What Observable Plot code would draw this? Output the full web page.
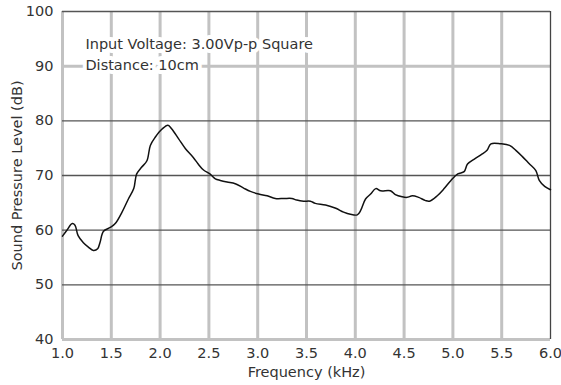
<!DOCTYPE html>
<html>
<head>
<meta charset="utf-8">
<script src="https://cdn.jsdelivr.net/npm/d3@7"></script>
<script src="https://cdn.jsdelivr.net/npm/@observablehq/plot@0.6"></script>
<style>
  html, body { margin: 0; padding: 0; background: #fff; }
  #chart svg { display: block; }
</style>
</head>
<body>
<div id="chart"></div>
<script>
// Frequency response (kHz vs dB)
const freq = [1.00, 1.043, 1.10, 1.128, 1.16, 1.214, 1.265, 1.316, 1.36, 1.385, 1.42, 1.49, 1.54, 1.61, 1.675, 1.73, 1.76, 1.81, 1.865, 1.90, 1.95, 2.02, 2.08, 2.12, 2.19, 2.26, 2.34, 2.39, 2.445, 2.51, 2.566, 2.617, 2.686, 2.77, 2.856, 2.925, 3.01, 3.097, 3.18, 3.27, 3.35, 3.40, 3.47, 3.54, 3.59, 3.695, 3.80, 3.88, 3.95, 4.02, 4.055, 4.105, 4.157, 4.21, 4.26, 4.36, 4.41, 4.48, 4.53, 4.585, 4.65, 4.72, 4.76, 4.84, 4.91, 4.98, 5.05, 5.115, 5.15, 5.22, 5.29, 5.35, 5.39, 5.49, 5.58, 5.645, 5.71, 5.78, 5.85, 5.885, 5.94, 6.00];
const spl  = [58.9, 59.95, 61.2, 60.9, 59.0, 57.7, 56.9, 56.3, 56.6, 57.8, 59.8, 60.5, 61.2, 63.3, 65.7, 67.6, 70.3, 71.5, 72.7, 75.5, 77.0, 78.5, 79.2, 78.5, 76.7, 74.9, 73.3, 72.1, 71.0, 70.3, 69.4, 69.1, 68.8, 68.5, 67.7, 67.1, 66.6, 66.3, 65.8, 65.8, 65.8, 65.5, 65.3, 65.3, 64.9, 64.6, 64.0, 63.3, 62.9, 62.8, 63.6, 65.7, 66.6, 67.6, 67.2, 67.2, 66.5, 66.1, 66.0, 66.3, 66.0, 65.4, 65.3, 66.3, 67.6, 69.1, 70.3, 70.7, 72.1, 73.0, 73.8, 74.6, 75.8, 75.8, 75.5, 74.6, 73.5, 72.2, 70.9, 69.1, 68.0, 67.4];

const xTicks = [1.0, 1.5, 2.0, 2.5, 3.0, 3.5, 4.0, 4.5, 5.0, 5.5, 6.0];
const yTicks = [40, 50, 60, 70, 80, 90, 100];

const noteLines = ["Input Voltage: 3.00Vp-p Square", "Distance: 10cm"];
const noteAt = {x: 1.235, y: 95.8};

const xLabel = "Frequency (kHz)";
const yLabel = "Sound Pressure Level (dB)";

const data = freq.map((f, i) => ({f, db: spl[i]}));
const xMin = d3.min(xTicks), xMax = d3.max(xTicks);
const yMin = d3.min(yTicks), yMax = d3.max(yTicks);

const lightV = xTicks.filter(d => d < xMax);
const darkV = xTicks.filter(d => d === xMax);
const lightH = yTicks.filter(d => d === yMin || d === 90);
const darkH = yTicks.filter(d => d !== yMin && d !== 90);

const FONT = "DejaVu Sans, sans-serif";

const chart = Plot.plot({
  width: 561,
  height: 385,
  marginLeft: 62,
  marginRight: 11,
  marginTop: 11,
  marginBottom: 46,
  style: {fontFamily: FONT, fontSize: "14.5px", color: "#333", background: "#fff"},
  x: {domain: [xMin, xMax], ticks: xTicks, tickFormat: d3.format(".1f"), tickSize: 0, tickPadding: 8, label: xLabel, labelAnchor: "center", labelOffset: 37, labelArrow: "none"},
  y: {domain: [yMin, yMax], ticks: yTicks, tickSize: 0, tickPadding: 9, label: yLabel, labelAnchor: "center", labelOffset: 51, labelArrow: "none"},
  marks: [
    Plot.ruleX(lightV, {stroke: "#c2c2c2", strokeWidth: 3}),
    Plot.ruleY(lightH, {stroke: "#c2c2c2", strokeWidth: 3}),
    Plot.ruleY(darkH, {stroke: "#555", strokeWidth: 1.3}),
    Plot.ruleX(darkV, {stroke: "#444", strokeWidth: 1.3}),
    Plot.text([noteLines.join("\n")], {
      x: () => noteAt.x, y: () => noteAt.y,
      text: d => d, textAnchor: "start", lineAnchor: "top", lineHeight: 1.45,
      fill: "#333", stroke: "white", strokeWidth: 8, fontSize: 14.5
    }),
    Plot.line(data, {x: "f", y: "db", stroke: "#111", strokeWidth: 1.5, curve: "catmull-rom"})
  ]
});
document.getElementById("chart").appendChild(chart);
</script>
</body>
</html>
